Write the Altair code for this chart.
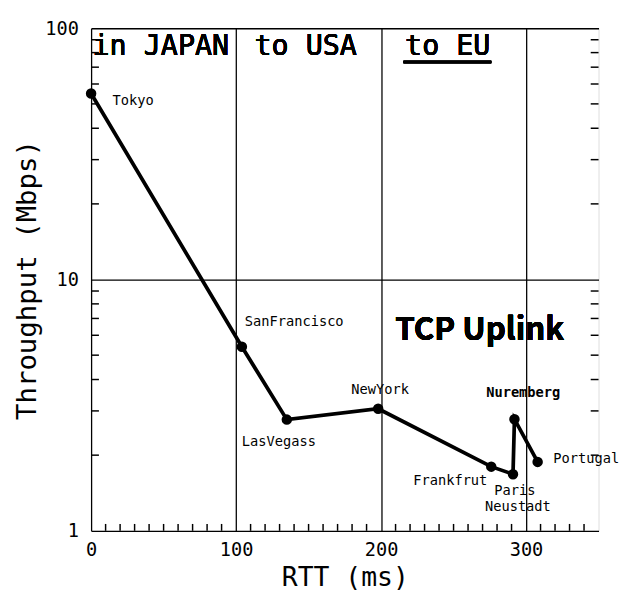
import altair as alt
import pandas as pd

# ---- data ----
cities = ["Tokyo", "SanFrancisco", "LasVegass", "NewYork", "Frankfrut", "Paris", "Nuremberg", "Portugal"]
rtt_ms = [0, 104, 135, 198, 276, 291, 292, 308]
throughput_mbps = [55, 5.4, 2.77, 3.06, 1.8, 1.68, 2.78, 1.88]

x_tick_labels = [0, 100, 200, 300]
y_tick_labels = [1, 10, 100]
x_minor_ticks = [10, 20, 30, 40, 50, 60, 70, 80, 90, 110, 120, 130, 140, 150, 160, 170, 180, 190,
                 210, 220, 230, 240, 250, 260, 270, 280, 290, 310, 320, 330, 340]
y_minor_ticks = [2, 3, 4, 5, 6, 7, 8, 9, 20, 30, 40, 50, 60, 70, 80, 90]

region_names = ["in JAPAN", "to USA", "to EU"]

df = pd.DataFrame({"city": cities, "rtt": rtt_ms, "tp": throughput_mbps,
                   "order": list(range(len(cities)))})

FONT = "DejaVu Sans Mono"
W, H = 519, 514

xscale = alt.Scale(domain=[0, 350], nice=False, zero=False)
yscale = alt.Scale(type="log", domain=[1, 100], nice=False)

xaxis = alt.Axis(values=x_tick_labels, grid=True, gridColor="black", gridWidth=1.3, gridOpacity=1,
                 tickSize=0, domain=False, labelFlush=False, labelFont=FONT, labelFontSize=19,
                 labelColor="black", labelPadding=10, title="RTT (ms)", titleFont=FONT,
                 titleFontSize=27, titleFontWeight="normal", titleColor="black", titlePadding=6)
yaxis = alt.Axis(values=y_tick_labels, format="d", grid=True, gridColor="black", gridWidth=1.3,
                 gridOpacity=1, tickSize=0, domain=False, labelFlush=False, labelFont=FONT,
                 labelFontSize=19, labelColor="black", labelPadding=13, title="Throughput (Mbps)",
                 titleFont=FONT, titleFontSize=28, titleFontWeight="normal", titleColor="black",
                 titlePadding=4)


def X(f):
    return alt.X(f, type="quantitative", scale=xscale, axis=xaxis)


def Y(f):
    return alt.Y(f, type="quantitative", scale=yscale, axis=yaxis)


base = alt.Chart(df)

line = base.mark_line(color="black", strokeWidth=3.8).encode(x=X("rtt"), y=Y("tp"), order="order:Q")
pts = base.mark_circle(size=115, color="black", opacity=1).encode(x=X("rtt"), y=Y("tp"))

xt_df = pd.DataFrame({"rtt": x_minor_ticks})
yt_df = pd.DataFrame({"tp": y_minor_ticks})

bottom_ticks = alt.Chart(xt_df).mark_tick(orient="vertical", size=7, thickness=1.5, color="black",
                                          opacity=1, yOffset=-3.5).encode(x=X("rtt"), y=alt.datum(1))
left_ticks = alt.Chart(yt_df).mark_tick(orient="horizontal", size=8, thickness=1.5, color="black",
                                        opacity=1, xOffset=4).encode(y=Y("tp"), x=alt.datum(0))
right_ticks = alt.Chart(yt_df).mark_tick(orient="horizontal", size=8, thickness=1.5, color="black",
                                         opacity=1, xOffset=-4).encode(y=Y("tp"), x=alt.datum(350))


def city_label(city, dx, dy, align="left", weight="normal", text=None):
    enc = {"x": X("rtt"), "y": Y("tp")}
    if text is None:
        enc["text"] = alt.Text("city:N")
    else:
        enc["text"] = alt.value(text)
    return base.transform_filter(alt.datum.city == city).mark_text(
        font=FONT, fontSize=14, fontWeight=weight, color="black", align=align,
        baseline="middle", dx=dx, dy=dy).encode(**enc)


labels = [
    city_label("Tokyo", 22, 8),
    city_label("SanFrancisco", 3, -25),
    city_label("LasVegass", -46, 23),
    city_label("NewYork", 2, -19, align="center"),
    city_label("Frankfrut", -4, 15, align="right"),
    city_label("Paris", 2, 17, align="center"),
    city_label("Paris", 5, 34, align="center", text="Neustadt"),
    city_label("Nuremberg", 9, -27, align="center", weight="bold"),
    city_label("Portugal", 16, -3),
]


def region(text, xv, align):
    return alt.Chart(df).mark_text(font=FONT, fontSize=29, fontWeight="normal", color="black",
                                   align=align, baseline="middle").encode(
        x=alt.datum(xv), y=alt.datum(84.7), text=alt.value(text))


regions = [
    region(region_names[0], 1, "left"),
    region(region_names[1], 148, "center"),
    region(region_names[2], 246, "center"),
]

underline = alt.Chart(df).mark_rule(color="black", strokeWidth=2.5).encode(
    x=alt.datum(215.5), x2=alt.datum(276), y=alt.datum(73.4))

tcp = alt.Chart(df).mark_text(font="Noto Sans CJK JP", fontSize=32, fontWeight="bold", color="black",
                              align="center", baseline="middle").encode(
    x=alt.datum(268), y=alt.datum(6.28), text=alt.value("TCP Uplink"))

chart = alt.layer(line, pts, bottom_ticks, left_ticks, right_ticks, *labels, *regions, underline, tcp).properties(
    width=W, height=H, padding={"left": 5, "top": 5, "right": 2, "bottom": 0}
).configure_view(stroke="black", strokeWidth=2).configure(background="white")

chart.save("out.html", embed_options={"renderer": "svg", "actions": False})
